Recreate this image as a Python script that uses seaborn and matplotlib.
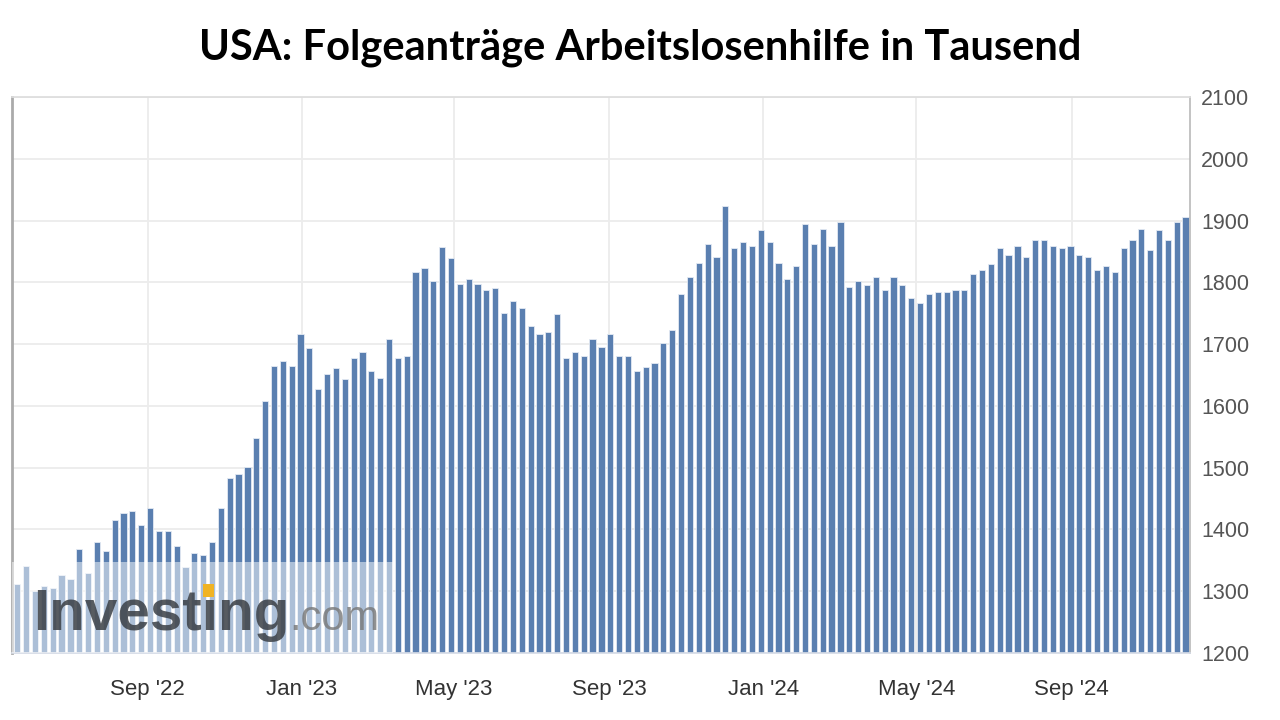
import numpy as np
import pandas as pd
import matplotlib
matplotlib.use("Agg")
import matplotlib.pyplot as plt
import seaborn as sns
from matplotlib.patches import Rectangle

# weekly continuing claims (thousands)
claims = [1312, 1341, 1300, 1308, 1305, 1327, 1319, 1369, 1330, 1380,
          1365, 1416, 1426, 1430, 1408, 1434, 1397, 1397, 1373, 1340,
          1362, 1358, 1380, 1434, 1483, 1490, 1501, 1548, 1608, 1665,
          1672, 1665, 1716, 1694, 1627, 1652, 1662, 1644, 1677, 1688,
          1656, 1645, 1709, 1677, 1681, 1816, 1823, 1802, 1858, 1840,
          1798, 1805, 1798, 1787, 1791, 1751, 1769, 1759, 1730, 1716,
          1719, 1748, 1677, 1688, 1681, 1709, 1695, 1716, 1681, 1681,
          1656, 1663, 1670, 1702, 1723, 1781, 1809, 1831, 1862, 1841,
          1923, 1855, 1866, 1859, 1884, 1866, 1831, 1806, 1827, 1895,
          1862, 1887, 1859, 1898, 1792, 1802, 1795, 1809, 1788, 1809,
          1795, 1774, 1767, 1781, 1784, 1784, 1788, 1788, 1813, 1820,
          1830, 1855, 1845, 1859, 1841, 1869, 1869, 1859, 1855, 1859,
          1845, 1841, 1820, 1827, 1816, 1855, 1869, 1887, 1852, 1884,
          1869, 1898, 1905]
first_week = "2022-05-21"
tick_dates = ["2022-09-01", "2023-01-01", "2023-05-01", "2023-09-01",
              "2024-01-01", "2024-05-01", "2024-09-01"]
tick_labels = ["Sep '22", "Jan '23", "May '23", "Sep '23",
               "Jan '24", "May '24", "Sep '24"]
y_ticks = list(range(1200, 2101, 100))

title = "USA: Folgeanträge Arbeitslosenhilfe in Tausend"

weeks = pd.date_range(first_week, periods=len(claims), freq="7D")
df = pd.DataFrame({"week": np.arange(len(claims)), "claims": claims})
# tick positions in bar units (one bar per week)
tick_pos = [(pd.Timestamp(d) - weeks[0]).days / 7 for d in tick_dates]

sns.set_theme(style="white")
plt.rcParams["font.family"] = ["Liberation Sans", "DejaVu Sans"]

fig = plt.figure(figsize=(12.8, 7.2), dpi=100)
ax = fig.add_axes([12 / 1280, 1 - 653 / 720, 1178 / 1280, 556 / 720])

sns.barplot(data=df, x="week", y="claims", color="#5a7fb0", saturation=1,
            width=0.7, edgecolor="#e3eaf3", linewidth=0.6, ax=ax)

ax.set_xlim(-0.6, 132.5)
ax.set_ylim(1200, 2100)
ax.set_yticks(y_ticks)
ax.set_xticks(tick_pos)
ax.set_xticklabels(tick_labels)
ax.yaxis.tick_right()
ax.set_xlabel("")
ax.set_ylabel("")
ax.set_axisbelow(True)
ax.grid(True, color="#ececec", linewidth=1.3)
ax.tick_params(axis="y", length=0, pad=8, labelsize=15.5, labelcolor="#555555")
ax.tick_params(axis="x", length=0, pad=19, labelsize=16, labelcolor="#333333")

ax.spines["left"].set_color("#aaaaaa")
ax.spines["left"].set_linewidth(2)
ax.spines["top"].set_color("#dddddd")
ax.spines["right"].set_color("#bbbbbb")
ax.spines["bottom"].set_color("#d5dbe6")
for s in ax.spines.values():
    s.set_visible(True)

# faded watermark box
ax.add_patch(Rectangle((-0.6, 1200), 43.05, 148, facecolor="white",
                       alpha=0.5, edgecolor="none", zorder=5))
fig.text(33 / 1280, 1 - 630 / 720, "Investing", fontsize=42, fontweight="bold",
         color="#3a3f45", alpha=0.85, va="baseline", zorder=6)
fig.text(289 / 1280, 1 - 630 / 720, ".com", fontsize=30, color="#777777",
         alpha=0.8, va="baseline", zorder=6)
fig.patches.append(Rectangle((203 / 1280, 1 - 597 / 720), 11 / 1280, 13 / 720,
                             transform=fig.transFigure, facecolor="#f0b323",
                             edgecolor="none", zorder=7))

fig.text(0.5, 1 - 48 / 720, title, ha="center", va="center", fontsize=30,
         fontweight="bold", color="black",
         family=["Lato", "DejaVu Sans"])

fig.savefig("out.png", dpi=100, facecolor="white")
